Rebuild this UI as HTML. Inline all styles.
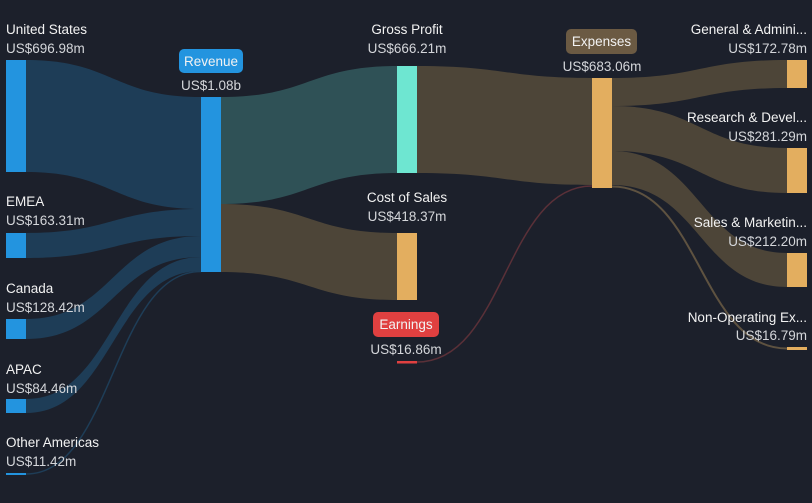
<!DOCTYPE html>
<html><head><meta charset="utf-8"><style>
html,body{margin:0;padding:0;background:#1c202b;}
svg{display:block;font-family:"Liberation Sans",Arial,sans-serif;}
.l{fill:#f2f2f2;font-size:13.5px}
.v{fill:#d4d6da;font-size:13.5px}
</style></head><body>
<svg width="812" height="503" viewBox="0 0 812 503" xmlns="http://www.w3.org/2000/svg">
<rect width="812" height="503" fill="#1c202b"/>
<g fill="#1e3d57">
<path d="M26,60 C113,60 113,97 201,97 L201,209 C113,209 113,172 26,172 Z"/>
<path d="M26,233 C113,233 113,209 201,209 L201,236 C113,236 113,258 26,258 Z"/>
<path d="M26,319 C113,319 113,236 201,236 L201,257 C113,257 113,339 26,339 Z"/>
<path d="M26,399 C113,399 113,257 201,257 L201,271 C113,271 113,413 26,413 Z"/>
</g>
<path d="M26,474 C113,474 113,271.5 201,271.5" stroke="#1e3d57" stroke-width="1.5" fill="none"/>
<path d="M221,97 C309,97 309,66 397,66 L397,173 C309,173 309,204 221,204 Z" fill="#2f5156"/>
<path d="M221,204 C309,204 309,233 397,233 L397,300 C309,300 309,272 221,272 Z" fill="#4d4538"/>
<path d="M417,66 C505,66 505,78 592,78 L592,185 C505,185 505,173 417,173 Z" fill="#4d4538"/>
<path d="M417,362 C505,362 505,186 592,186" stroke="#5a3038" stroke-width="1.5" fill="none"/>
<g fill="#4d4538">
<path d="M612,78 C700,78 700,60 787,60 L787,88 C700,88 700,106 612,106 Z"/>
<path d="M612,106 C700,106 700,148 787,148 L787,193 C700,193 700,151 612,151 Z"/>
<path d="M612,151 C700,151 700,253 787,253 L787,287 C700,287 700,185 612,185 Z"/>
</g>
<path d="M612,186.5 C700,186.5 700,348.5 787,348.5" stroke="#5e5240" stroke-width="2" fill="none"/>
<g fill="#2394df">
<rect x="6" y="60" width="20" height="112"/>
<rect x="6" y="233" width="20" height="25"/>
<rect x="6" y="319" width="20" height="20"/>
<rect x="6" y="399" width="20" height="14"/>
<rect x="6" y="473" width="20" height="2"/>
<rect x="201" y="97" width="20" height="175"/>
</g>
<rect x="397" y="66" width="20" height="107" fill="#6ee6d1"/>
<rect x="397" y="233" width="20" height="67" fill="#e3ae5f"/>
<rect x="397" y="361" width="20" height="2.5" fill="#e04040"/>
<g fill="#e3ae5f">
<rect x="592" y="78" width="20" height="110"/>
<rect x="787" y="60" width="20" height="28"/>
<rect x="787" y="148" width="20" height="45"/>
<rect x="787" y="253" width="20" height="34"/>
<rect x="787" y="347" width="20" height="3"/>
</g>
<rect x="179" y="49" width="64" height="24" rx="5" fill="#2394df"/>
<text x="211" y="66" text-anchor="middle" class="l">Revenue</text>
<rect x="373" y="312" width="66" height="25" rx="5" fill="#e04040"/>
<text x="406" y="329" text-anchor="middle" class="l">Earnings</text>
<rect x="566" y="29" width="71" height="25" rx="5" fill="#6b5a43"/>
<text x="601.5" y="46" text-anchor="middle" class="l">Expenses</text>
<text x="6" y="34" class="l">United States</text><text x="6" y="53" class="v">US$696.98m</text>
<text x="6" y="206" class="l">EMEA</text><text x="6" y="225" class="v">US$163.31m</text>
<text x="6" y="293" class="l">Canada</text><text x="6" y="312" class="v">US$128.42m</text>
<text x="6" y="374" class="l">APAC</text><text x="6" y="393" class="v">US$84.46m</text>
<text x="6" y="447" class="l">Other Americas</text><text x="6" y="466" class="v">US$11.42m</text>
<text x="211" y="90" text-anchor="middle" class="v">US$1.08b</text>
<text x="407" y="34" text-anchor="middle" class="l">Gross Profit</text><text x="407" y="53" text-anchor="middle" class="v">US$666.21m</text>
<text x="407" y="202" text-anchor="middle" class="l">Cost of Sales</text><text x="407" y="221" text-anchor="middle" class="v">US$418.37m</text>
<text x="406" y="354" text-anchor="middle" class="v">US$16.86m</text>
<text x="602" y="71" text-anchor="middle" class="v">US$683.06m</text>
<g text-anchor="end">
<text x="807" y="34" class="l">General &amp; Admini...</text><text x="807" y="53" class="v">US$172.78m</text>
<text x="807" y="122" class="l">Research &amp; Devel...</text><text x="807" y="141" class="v">US$281.29m</text>
<text x="807" y="227" class="l">Sales &amp; Marketin...</text><text x="807" y="246" class="v">US$212.20m</text>
<text x="807" y="322" class="l">Non-Operating Ex...</text><text x="807" y="340" class="v">US$16.79m</text>
</g>
</svg>
</body></html>
